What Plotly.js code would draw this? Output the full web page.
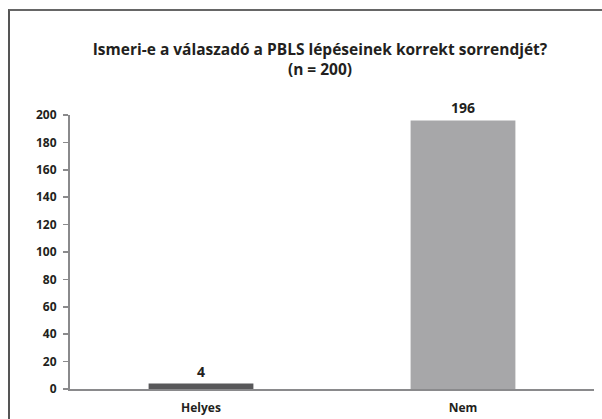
<!DOCTYPE html>
<html>
<head>
<meta charset="utf-8">
<script src="https://cdn.plot.ly/plotly-3.0.1.min.js"></script>
<style>
  body { margin: 0; background: #fff; overflow: hidden; }
  #wrap { position: relative; width: 602px; height: 419px; overflow: hidden; }
  #chart { width: 602px; height: 419px; }
  #frame { position: absolute; left: 8px; top: 9px; width: 594px; height: 410px;
           border-left: 2px solid #555; border-top: 2px solid #666; pointer-events: none; box-sizing: border-box; }
  #edge { position: absolute; left: 595px; top: 12px; width: 7px; height: 407px; background: #fff; }
</style>
</head>
<body>
<div id="wrap">
  <div id="chart"></div>
  <div id="frame"></div>
  <div id="edge"></div>
</div>
<script>
// answers and counts
const categories = ['Helyes', 'Nem'];
const counts = [4, 196];
const barColors = ['#58585a', '#a7a7a9'];
const yTicks = [0, 20, 40, 60, 80, 100, 120, 140, 160, 180, 200];

const font = 'Open Sans, Noto Sans, sans-serif';
const ink = '#231f20';

const plotData = [{
  x: categories,
  y: counts,
  type: 'bar',
  marker: { color: barColors },
  text: counts.map(String),
  textposition: 'outside',
  cliponaxis: false,
  textfont: { family: font, size: 14, color: ink, weight: 'bold' },
  hoverinfo: 'skip'
}];

const layout = {
  width: 602,
  height: 419,
  margin: { l: 70, r: 8, t: 115, b: 30 },
  paper_bgcolor: '#fff',
  plot_bgcolor: '#fff',
  showlegend: false,
  bargap: 0.6,
  font: { family: font, color: ink },
  title: {
    text: '<b>Ismeri-e a válaszadó a PBLS lépéseinek korrekt sorrendjét?<br>(n = 200)</b>',
    font: { family: font, size: 15.5, color: ink },
    x: 320 / 602, xref: 'container', xanchor: 'center',
    y: 1 - 55 / 419, yref: 'container', yanchor: 'middle'
  },
  xaxis: {
    showline: true, linecolor: '#8a8a8c', linewidth: 2,
    ticks: '', showgrid: false, zeroline: false,
    ticklabelstandoff: 7,
    tickfont: { family: font, size: 12, color: ink, weight: 'bold' }
  },
  yaxis: {
    range: [0, 200],
    tickvals: yTicks,
    showline: true, linecolor: '#8a8a8c', linewidth: 2,
    ticks: 'outside', ticklen: 5, tickcolor: '#8a8a8c', tickwidth: 1.5,
    ticklabelstandoff: 4,
    showgrid: false, zeroline: false,
    tickfont: { family: font, size: 12, color: ink, weight: 'bold' }
  }
};

Plotly.newPlot('chart', plotData, layout, { displayModeBar: false, staticPlot: true });
</script>
</body>
</html>
